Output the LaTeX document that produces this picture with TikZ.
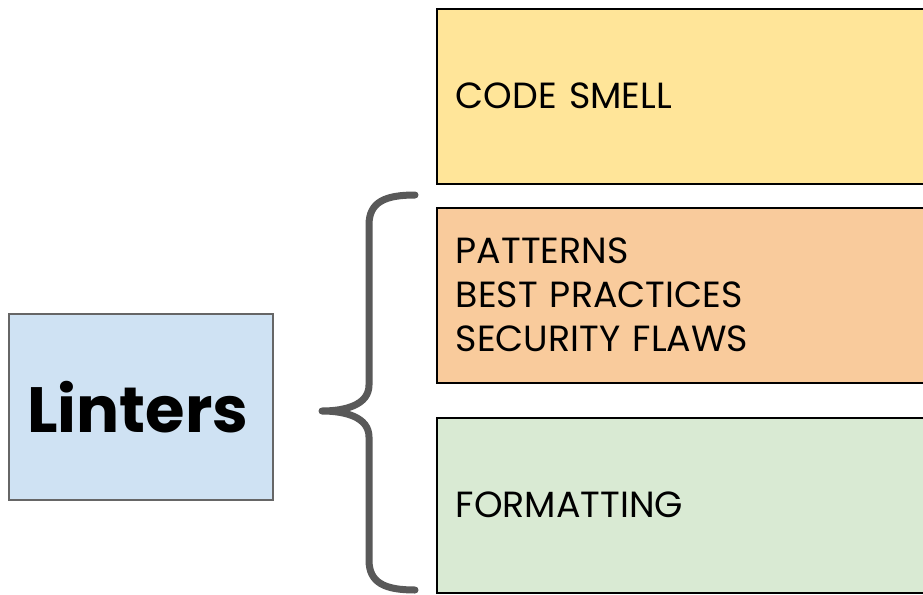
\documentclass[tikz,border=0pt]{standalone}
\usepackage{fontspec}
\setmainfont{Poppins}
\definecolor{cyellow}{HTML}{FFE599}
\definecolor{corange}{HTML}{F9CB9C}
\definecolor{cgreen}{HTML}{D9EAD3}
\definecolor{cblue}{HTML}{CFE2F3}
\definecolor{bracegray}{HTML}{595959}
\definecolor{bordergray}{HTML}{666666}
\tikzset{
  catbox/.style={draw=black, line width=1.6pt, rectangle, anchor=north west,
    minimum width=500pt, minimum height=175pt, text width=462pt,
    inner xsep=19pt, align=left, font=\fontsize{36.4pt}{44pt}\selectfont},
  mainbox/.style={draw=bordergray, line width=1.6pt, fill=cblue, rectangle, anchor=north west,
    minimum width=264pt, minimum height=186pt, font=\fontsize{64pt}{70pt}\selectfont\bfseries},
  bracestyle/.style={draw=bracegray, line width=7pt, line cap=round, line join=round}
}
\begin{document}
\begin{tikzpicture}[x=1pt,y=1pt]
\useasboundingbox (0,0) rectangle (923,-594);
\clip (0,0) rectangle (923,-594);
\fill[white] (0,0) rectangle (923,-594);
\node[catbox, fill=cyellow] (smell) at (436,-8) {\raisebox{2pt}{CODE SMELL}};
\node[catbox, fill=corange] (patterns) at (436,-207) {\raisebox{2pt}{PATTERNS}\\\raisebox{2pt}{BEST PRACTICES}\\\raisebox{2pt}{SECURITY FLAWS}};
\node[catbox, fill=cgreen] (format) at (436,-417) {\raisebox{2pt}{FORMATTING}};
\node[mainbox] (linters) at (8,-313) {\hspace*{-6pt}Linters};
\coordinate (btop) at (415,-195);
\coordinate (btip) at (322,-411);
\coordinate (bbot) at (415,-590);
\draw[bracestyle] (btop) .. controls (385,-195) and (369,-202) .. (369,-225)
  -- (369,-385) .. controls (369,-405) and (345,-411) .. (btip)
  .. controls (345,-411) and (369,-417) .. (369,-437)
  -- (369,-560) .. controls (369,-583) and (385,-590) .. (bbot);
\end{tikzpicture}
\end{document}
